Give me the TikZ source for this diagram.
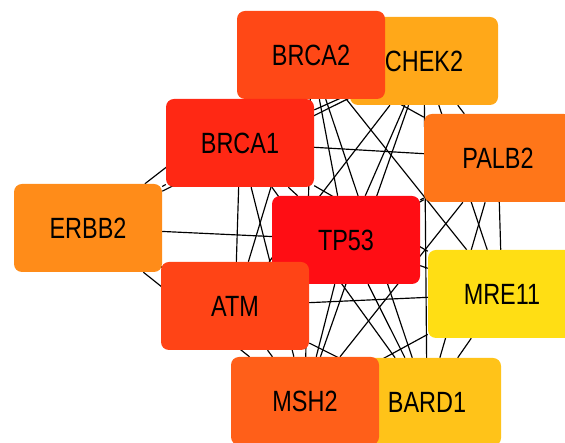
\documentclass[tikz,border=0pt]{standalone}
\usepackage{fontspec}
\setmainfont{Liberation Sans}
\usetikzlibrary{backgrounds}

\definecolor{cTP53}{RGB}{255,13,20}
\definecolor{cBRCA1}{RGB}{255,40,20}
\definecolor{cBRCA2}{RGB}{255,72,22}
\definecolor{cATM}{RGB}{255,68,22}
\definecolor{cMSH2}{RGB}{255,95,25}
\definecolor{cPALB2}{RGB}{255,118,25}
\definecolor{cERBB2}{RGB}{255,140,25}
\definecolor{cCHEK2}{RGB}{255,168,25}
\definecolor{cBARD1}{RGB}{255,195,25}
\definecolor{cMRE11}{RGB}{255,222,20}

\newcommand{\narrow}[1]{\scalebox{0.8}[1]{#1}}

\begin{document}
\begin{tikzpicture}[
	gene/.style={rectangle, rounded corners=2.4mm, minimum width=44.4mm, minimum height=26.4mm, inner sep=0pt, font=\fontsize{25}{30}\selectfont},
	connect/.style={draw=black, line width=1pt}
	]
	
	\clip (0,0) rectangle (16.95,13.29);
	
	%-----------------------
	% Genes (back to front)
	%-----------------------
	\node[gene, fill=cCHEK2] (CHEK2) at (12.72,11.46) {\narrow{CHEK2}};
	\node[gene, fill=cBRCA2] (BRCA2) at ( 9.33,11.64) {\narrow{BRCA2}};
	\node[gene, fill=cBRCA1] (BRCA1) at ( 7.20, 9.00) {\narrow{BRCA1}};
	\node[gene, fill=cPALB2] (PALB2) at (14.94, 8.55) {\narrow{PALB2}};
	\node[gene, fill=cERBB2] (ERBB2) at ( 2.64, 6.45) {\narrow{ERBB2}};
	\node[gene, fill=cTP53]  (TP53)  at (10.38, 6.09) {\narrow{TP53}};
	\node[gene, fill=cMRE11] (MRE11) at (15.06, 4.47) {\narrow{MRE11}};
	\node[gene, fill=cATM]   (ATM)   at ( 7.05, 4.11) {\narrow{ATM}};
	\node[gene, fill=cBARD1] (BARD1) at (12.81, 1.23) {\narrow{BARD1}};
	\node[gene, fill=cMSH2]  (MSH2)  at ( 9.15, 1.26) {\narrow{MSH2}};
	
	%-----------------------
	% Interactions (behind the genes)
	%-----------------------
	\begin{scope}[on background layer]
	% TP53
	\draw[connect] (TP53) -- (BRCA1);
	\draw[connect] (TP53) -- (BRCA2);
	\draw[connect] (TP53) -- (CHEK2);
	\draw[connect] (TP53) -- (PALB2);
	\draw[connect] (TP53) -- (MRE11);
	\draw[connect] (TP53) -- (BARD1);
	\draw[connect] (TP53) -- (MSH2);
	\draw[connect] (TP53) -- (ATM);
	\draw[connect] (TP53) -- (ERBB2);
	
	% BRCA1
	\draw[connect] (BRCA1) -- (BRCA2);
	\draw[connect] (BRCA1) -- (CHEK2);
	\draw[connect] (BRCA1) -- (PALB2);
	\draw[connect] (BRCA1) -- (MRE11);
	\draw[connect] (BRCA1) -- (BARD1);
	\draw[connect] (BRCA1) -- (MSH2);
	\draw[connect] (BRCA1) -- (ATM);
	\draw[connect] (BRCA1) -- (ERBB2);
	
	% BRCA2
	\draw[connect] (BRCA2) -- (CHEK2);
	\draw[connect] (BRCA2) -- (PALB2);
	\draw[connect] (BRCA2) -- (MRE11);
	\draw[connect] (BRCA2) -- (BARD1);
	\draw[connect] (BRCA2) -- (MSH2);
	\draw[connect] (BRCA2) -- (ATM);
	\draw[connect] (BRCA2) -- (ERBB2);
	
	% CHEK2
	\draw[connect] (CHEK2) -- (PALB2);
	\draw[connect] (CHEK2) -- (MRE11);
	\draw[connect] (CHEK2) -- (BARD1);
	\draw[connect] (CHEK2) -- (MSH2);
	\draw[connect] (CHEK2) -- (ATM);
	\draw[connect] (CHEK2) -- (ERBB2);
	
	% PALB2
	\draw[connect] (PALB2) -- (MRE11);
	\draw[connect] (PALB2) -- (BARD1);
	\draw[connect] (PALB2) -- (MSH2);
	\draw[connect] (PALB2) -- (ATM);
	
	% MRE11
	\draw[connect] (MRE11) -- (BARD1);
	\draw[connect] (MRE11) -- (MSH2);
	\draw[connect] (MRE11) -- (ATM);
	
	% BARD1, MSH2, ATM
	\draw[connect] (BARD1) -- (MSH2);
	\draw[connect] (BARD1) -- (ATM);
	\draw[connect] (MSH2) -- (ATM);
	\draw[connect] (MSH2) -- (ERBB2);
	\draw[connect] (ATM) -- (ERBB2);
	\end{scope}
	
\end{tikzpicture}
\end{document}
